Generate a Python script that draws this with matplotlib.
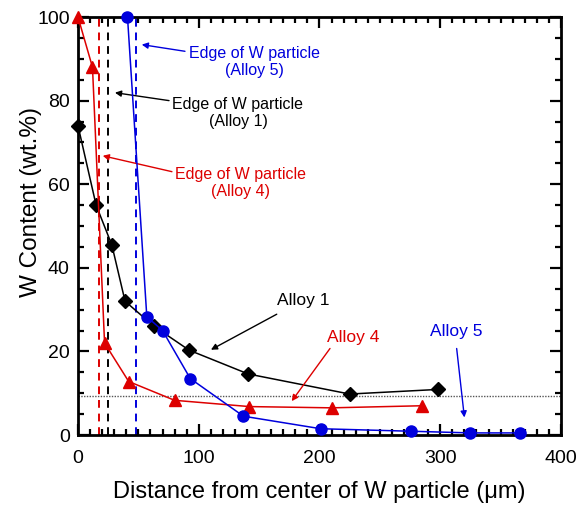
"""W content vs distance from center of W particle for three alloys."""

import matplotlib
matplotlib.use("Agg")
import matplotlib.pyplot as plt
from matplotlib.ticker import MultipleLocator

plt.rcParams["font.family"] = ["Liberation Sans", "DejaVu Sans"]

# Alloy 1 (black diamonds)
alloy1_x = [0, 15, 28, 39, 63, 92, 141, 225, 298]
alloy1_y = [74, 55, 45.5, 32, 26, 20.3, 14.6, 9.8, 10.9]
# Alloy 4 (red triangles)
alloy4_x = [0, 12, 22, 42, 80, 142, 210, 285]
alloy4_y = [100, 88, 22, 12.8, 8.3, 6.8, 6.5, 7.0]
# Alloy 5 (blue circles)
alloy5_x = [41, 57, 70, 93, 137, 201, 276, 325, 366]
alloy5_y = [100, 28.3, 25, 13.5, 4.5, 1.5, 0.9, 0.5, 0.5]

# particle edges (dashed) and reference level (dotted)
edge_alloy1 = 24.5
edge_alloy4 = 17
edge_alloy5 = 48
ref_level = 9.3

BLACK = "black"
RED = "#dd0000"
BLUE = "#0000dd"


def main():
    fig = plt.figure(figsize=(5.79, 5.05), dpi=100)
    ax = fig.add_axes([0.1347, 0.1386, 0.9689 - 0.1347, 0.9663 - 0.1386])

    ax.axhline(ref_level, color="#555555", linestyle=(0, (1, 1)), linewidth=1.0, zorder=1)
    ax.axvline(edge_alloy4, color=RED, linestyle=(0, (4, 3)), linewidth=1.4, zorder=1)
    ax.axvline(edge_alloy1, color=BLACK, linestyle=(0, (4, 3)), linewidth=1.4, zorder=1)
    ax.axvline(edge_alloy5, color=BLUE, linestyle=(0, (4, 3)), linewidth=1.4, zorder=1)

    ax.plot(alloy1_x, alloy1_y, color=BLACK, marker="D", markersize=7.5, linewidth=1.1,
            clip_on=False, zorder=3)
    ax.plot(alloy4_x, alloy4_y, color=RED, marker="^", markersize=8.5, linewidth=1.1,
            clip_on=False, zorder=4)
    ax.plot(alloy5_x, alloy5_y, color=BLUE, marker="o", markersize=8, linewidth=1.1,
            clip_on=False, zorder=5)

    arrow = dict(arrowstyle="-|>", linewidth=1.0, mutation_scale=9, shrinkA=0, shrinkB=0)

    # edge labels
    ax.text(145.8, 89.2, "Edge of W particle\n(Alloy 5)", color=BLUE, fontsize=11.5,
            ha="center", va="center", multialignment="center")
    ax.annotate("", xy=(52.8, 93.4), xytext=(88.6, 91.8), arrowprops=dict(arrow, color=BLUE))
    ax.text(132.5, 77.0, "Edge of W particle\n(Alloy 1)", color=BLACK, fontsize=11.5,
            ha="center", va="center", multialignment="center")
    ax.annotate("", xy=(30.6, 81.9), xytext=(75.4, 80.0), arrowprops=dict(arrow, color=BLACK))
    ax.text(134.2, 60.3, "Edge of W particle\n(Alloy 4)", color=RED, fontsize=11.5,
            ha="center", va="center", multialignment="center")
    ax.annotate("", xy=(20.5, 66.8), xytext=(77.8, 63.0), arrowprops=dict(arrow, color=RED))

    # curve labels
    ax.text(186.3, 32.2, "Alloy 1", color=BLACK, fontsize=12.5, ha="center", va="center")
    ax.annotate("", xy=(110.1, 20.4), xytext=(164.6, 28.9), arrowprops=dict(arrow, color=BLACK))
    ax.text(227.5, 23.4, "Alloy 4", color=RED, fontsize=12.5, ha="center", va="center")
    ax.annotate("", xy=(177, 8.1), xytext=(208.7, 20.7), arrowprops=dict(arrow, color=RED))
    ax.text(313.6, 24.8, "Alloy 5", color=BLUE, fontsize=12.5, ha="center", va="center")
    ax.annotate("", xy=(320, 4.2), xytext=(313.6, 20.7), arrowprops=dict(arrow, color=BLUE))

    ax.set_xlim(0, 400)
    ax.set_ylim(0, 100)
    ax.xaxis.set_major_locator(MultipleLocator(100))
    ax.xaxis.set_minor_locator(MultipleLocator(10))
    ax.yaxis.set_major_locator(MultipleLocator(20))
    ax.yaxis.set_minor_locator(MultipleLocator(5))
    ax.tick_params(which="both", direction="in", top=True, right=True, width=1.6)
    ax.tick_params(which="major", length=8, labelsize=14)
    ax.tick_params(which="minor", length=4)
    ax.tick_params(axis="x", which="major", pad=11)
    ax.tick_params(axis="y", which="major", pad=6)
    for sp in ax.spines.values():
        sp.set_linewidth(2.0)

    ax.set_xlabel("Distance from center of W particle (μm)", fontsize=17, va="center")
    ax.xaxis.set_label_coords(0.5, -0.136)
    ax.set_ylabel("W Content (wt.%)", fontsize=17.5, va="center")
    ax.yaxis.set_label_coords(-0.098, 0.557)

    fig.savefig("out.png", dpi=100)
    plt.close(fig)


if __name__ == "__main__":
    main()
